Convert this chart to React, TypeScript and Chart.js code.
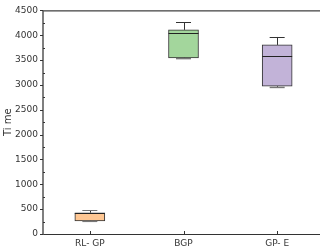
import React, { useEffect, useRef } from "react";
import { Chart, registerables } from "chart.js";

Chart.register(...registerables);

const categories = ["RL- GP", "BGP", "GP- E"];
const mins = [255, 3530, 2950];
const q1s = [265, 3545, 2975];
const medians = [428, 4055, 3592];
const q3s = [428, 4108, 3805];
const maxs = [482, 4262, 3965];
const fillColors = ["#FFC793", "#A3D69C", "#C2B3D8"];
const yTicks = [0, 500, 1000, 1500, 2000, 2500, 3000, 3500, 4000, 4500];

const FONT = "'DejaVu Sans', 'Liberation Sans', Arial, sans-serif";

const boxPlugin = {
  id: "boxPlugin",
  afterDatasetsDraw(chart: any) {
    const ctx = chart.ctx;
    const xs = chart.scales.x;
    const ys = chart.scales.y;
    const area = chart.chartArea;
    const meta = chart.getDatasetMeta(0);
    ctx.save();
    categories.forEach((_, i) => {
      const x = xs.getPixelForValue(i);
      const bw = meta.data[i] ? meta.data[i].width : 30;
      const capHalf = bw / 4;
      const yMax = ys.getPixelForValue(maxs[i]);
      const yMin = ys.getPixelForValue(mins[i]);
      const yQ1 = ys.getPixelForValue(q1s[i]);
      const yQ3 = ys.getPixelForValue(q3s[i]);
      const yMed = ys.getPixelForValue(medians[i]);
      ctx.strokeStyle = "#333";
      ctx.lineWidth = 1;
      ctx.beginPath();
      ctx.moveTo(Math.round(x) + 0.5, yQ3);
      ctx.lineTo(Math.round(x) + 0.5, yMax);
      ctx.moveTo(Math.round(x) + 0.5, yQ1);
      ctx.lineTo(Math.round(x) + 0.5, yMin);
      ctx.stroke();
      ctx.strokeStyle = i === 0 ? "#777" : "#333";
      ctx.beginPath();
      ctx.moveTo(x - capHalf, Math.round(yMax) + 0.5);
      ctx.lineTo(x + capHalf, Math.round(yMax) + 0.5);
      ctx.stroke();
      ctx.strokeStyle = "#777";
      ctx.lineWidth = 1.5;
      ctx.beginPath();
      ctx.moveTo(x - capHalf, yMin);
      ctx.lineTo(x + capHalf, yMin);
      ctx.stroke();
      ctx.strokeStyle = "#222";
      ctx.lineWidth = 1;
      ctx.beginPath();
      ctx.moveTo(x - bw / 2, Math.round(yMed) + 0.5);
      ctx.lineTo(x + bw / 2, Math.round(yMed) + 0.5);
      ctx.stroke();
    });
    // frame / axes
    ctx.strokeStyle = "#111";
    ctx.lineWidth = 1;
    ctx.beginPath();
    ctx.moveTo(area.left, area.top + 0.5);
    ctx.lineTo(area.right, area.top + 0.5);
    ctx.stroke();
    ctx.strokeStyle = "#333";
    ctx.beginPath();
    ctx.moveTo(area.left, area.bottom + 0.5);
    ctx.lineTo(area.right, area.bottom + 0.5);
    ctx.stroke();
    ctx.strokeStyle = "#555";
    ctx.lineWidth = 1.5;
    ctx.beginPath();
    ctx.moveTo(area.left, area.top);
    ctx.lineTo(area.left, area.bottom + 1);
    ctx.stroke();
    // y ticks
    ctx.lineWidth = 1;
    ctx.strokeStyle = "#333";
    yTicks.forEach((v, k) => {
      const y = Math.round(ys.getPixelForValue(v)) + 0.5;
      ctx.beginPath();
      ctx.moveTo(area.left - 3, y);
      ctx.lineTo(area.left, y);
      ctx.stroke();
      if (k < yTicks.length - 1) {
        const ym = Math.round(ys.getPixelForValue(v + 250)) + 0.5;
        ctx.beginPath();
        ctx.moveTo(area.left, ym);
        ctx.lineTo(area.left + 2, ym);
        ctx.stroke();
      }
    });
    categories.forEach((_, i) => {
      const x = Math.round(xs.getPixelForValue(i)) + 0.5;
      ctx.beginPath();
      ctx.moveTo(x, area.bottom);
      ctx.lineTo(x, area.bottom - 3);
      ctx.stroke();
    });
    ctx.restore();
  },
};

export default function App() {
  const ref = useRef<HTMLCanvasElement | null>(null);
  useEffect(() => {
    document.body.style.margin = "0";
    const chart = new Chart(ref.current as HTMLCanvasElement, {
      type: "bar",
      data: {
        labels: categories,
        datasets: [
          {
            data: q1s.map((q, i) => [q, q3s[i]]) as any,
            backgroundColor: fillColors,
            borderColor: "#333",
            borderWidth: 1,
            borderSkipped: false,
            barThickness: 30,
          },
        ],
      },
      options: {
        animation: false,
        responsive: false,
        maintainAspectRatio: false,
        layout: { padding: { top: 8, left: 0, right: 0, bottom: 0 } },
        plugins: { legend: { display: false }, tooltip: { enabled: false } },
        scales: {
          x: {
            grid: { display: false, drawTicks: false },
            border: { display: false },
            ticks: { font: { family: FONT, size: 9 }, color: "#333", padding: 4 },
            afterFit: (s: any) => {
              s.height = 17;
            },
          },
          y: {
            min: 0,
            max: 4500,
            grid: { display: false, drawTicks: false },
            border: { display: false },
            ticks: {
              stepSize: 500,
              font: { family: FONT, size: 9 },
              color: "#333",
              padding: 5,
              callback: (v: any) => String(v),
            },
            title: {
              display: true,
              text: "Ti me",
              font: { family: FONT, size: 10 },
              color: "#333",
              padding: { top: 2, bottom: 0 },
            },
            afterFit: (s: any) => {
              s.width = 43;
            },
          },
        },
      },
      plugins: [boxPlugin],
    });
    return () => chart.destroy();
  }, []);
  return (
    <div style={{ position: "fixed", left: 0, top: 0, width: 320, height: 251, overflow: "hidden" }}>
      <canvas ref={ref} width={324} height={251} style={{ display: "block" }} />
    </div>
  );
}
